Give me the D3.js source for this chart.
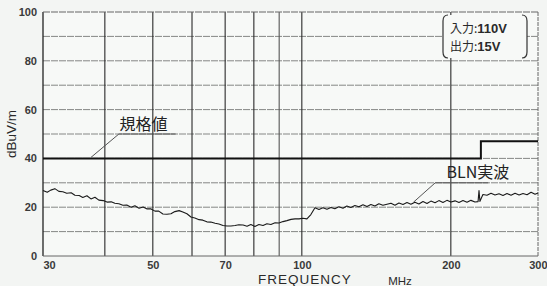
<!DOCTYPE html>
<html>
<head>
<meta charset="utf-8">
<script src="https://cdn.jsdelivr.net/npm/d3@7"></script>
<style>
  body { margin: 0; background: #f3f5f3; }
  svg { display: block; }
</style>
</head>
<body>
<div id="chart"></div>
<script>
// axis ticks
const freqLabels = [30, 50, 70, 100, 200, 300];
const freqGrid = [40, 50, 60, 70, 80, 90, 100, 200];
const levelLabels = [0, 20, 40, 60, 80, 100];
const levelGrid = [10, 20, 30, 40, 50, 60, 70, 80, 90];

// limit line (規格値)
const limitFreq = [30, 230, 300];
const limitLevel = [40, 47, 47];

const blnFreq = [
  30, 30.6, 31.1, 31.7, 32.3, 32.9, 33.5, 34.2, 34.8, 35.5,
  36.1, 36.8, 37.5, 38.2, 38.9, 39.7, 40.4, 41.2, 41.9, 42.7,
  43.5, 44.3, 45.2, 46.0, 46.9, 47.8, 48.7, 49.6, 50.5, 51.4,
  52.4, 53.4, 54.4, 55.4, 56.5, 57.5, 58.6, 59.7, 60.8, 62.0,
  63.1, 64.3, 65.5, 66.8, 68.0, 69.3, 70.6, 71.9, 73.3, 74.6,
  76.1, 77.5, 78.9, 80.4, 81.9, 83.5, 85.0, 86.6, 88.3, 89.9,
  91.6, 93.3, 95.1, 96.9, 98.7, 100.5, 102.4, 104.3, 106.3, 108.3,
  110.3, 112.4, 114.5, 116.6, 118.8, 121.1, 123.3, 125.6, 128.0, 130.4,
  132.9, 135.4, 137.9, 140.5, 143.1, 145.8, 148.6, 151.4, 154.2, 157.1,
  160.1, 163.1, 166.1, 169.2, 172.4, 175.7, 179.0, 182.3, 185.8, 189.2,
  192.8, 196.4, 200.1, 203.9, 207.7, 211.6, 215.6, 219.6, 223.8, 227.0,
  228.0, 229.0, 232.2, 236.6, 241.1, 245.6, 250.2, 254.9, 259.7, 264.6,
  269.6, 274.7, 279.8, 285.1, 290.5, 295.9, 300
];
const blnLevel = [
  26.8, 26.1, 27.0, 27.6, 26.5, 26.3, 25.7, 25.9, 24.9, 24.8,
  24.0, 24.7, 23.4, 24.1, 22.9, 22.7, 22.1, 22.2, 21.6, 21.4,
  20.8, 20.9, 20.0, 20.6, 19.6, 20.1, 19.3, 19.3, 18.4, 18.4,
  17.2, 17.1, 17.3, 18.2, 18.6, 18.0, 17.3, 16.0, 15.6, 14.9,
  14.7, 14.0, 13.9, 13.4, 13.1, 12.5, 12.3, 12.3, 12.5, 12.8,
  12.7, 12.2, 12.9, 12.1, 12.9, 12.5, 13.2, 12.9, 13.6, 13.5,
  14.1, 14.5, 15.0, 15.2, 15.2, 15.5, 15.2, 17.0, 19.8, 19.1,
  19.8, 19.2, 19.9, 19.4, 20.2, 19.6, 20.5, 19.9, 20.7, 20.2,
  21.0, 20.3, 21.1, 20.5, 21.4, 20.8, 21.2, 21.6, 20.8, 21.7,
  21.1, 21.9, 21.2, 22.0, 21.3, 22.3, 21.5, 22.5, 21.8, 22.7,
  21.9, 22.8, 22.1, 22.6, 21.9, 22.7, 22.0, 22.8, 22.1, 22.3,
  26.8, 22.4, 25.2, 24.9, 25.7, 25.0, 25.5, 24.8, 25.6, 24.9,
  25.7, 25.0, 25.6, 25.1, 26.1, 25.3, 25.8
];

const width = 547, height = 286;
const margin = { top: 12, right: 9, bottom: 30, left: 43 };

const svg = d3.select('#chart')
  .append('svg')
  .attr('width', width)
  .attr('height', height)
  .style('font-family', '"Liberation Sans", Arial, sans-serif');

const x = d3.scaleLog()
  .domain([30, 300])
  .range([margin.left, width - margin.right]);

const y = d3.scaleLinear()
  .domain([0, 100])
  .range([height - margin.bottom, margin.top]);

// plot background
svg.append('rect')
  .attr('x', x(30)).attr('y', y(100))
  .attr('width', x(300) - x(30)).attr('height', y(0) - y(100))
  .attr('fill', '#f7f9f7');

// horizontal grid (light grey)
svg.append('g')
  .selectAll('line')
  .data(levelGrid)
  .join('line')
  .attr('x1', x(30)).attr('x2', x(300))
  .attr('y1', d => y(d)).attr('y2', d => y(d))
  .attr('stroke', '#858785')
  .attr('stroke-width', 1)
  .attr('stroke-dasharray', '7,1');

// vertical grid (darker)
svg.append('g')
  .selectAll('line')
  .data(freqGrid)
  .join('line')
  .attr('x1', d => x(d)).attr('x2', d => x(d))
  .attr('y1', y(0)).attr('y2', y(100))
  .attr('stroke', d => d === 90 ? '#555' : '#2a2a2a')
  .attr('stroke-width', 1.1);

// frame
svg.append('line')
  .attr('x1', x(30)).attr('x2', x(30)).attr('y1', y(0)).attr('y2', y(100))
  .attr('stroke', '#222').attr('stroke-width', 1.3);
svg.append('line')
  .attr('x1', x(300)).attr('x2', x(300)).attr('y1', y(0)).attr('y2', y(100))
  .attr('stroke', '#666').attr('stroke-width', 1).attr('stroke-dasharray', '4,1');
svg.append('line')
  .attr('x1', x(30)).attr('x2', x(300)).attr('y1', y(100)).attr('y2', y(100))
  .attr('stroke', '#666').attr('stroke-width', 1).attr('stroke-dasharray', '7,1');
svg.append('line')
  .attr('x1', x(30)).attr('x2', x(300)).attr('y1', y(0)).attr('y2', y(0))
  .attr('stroke', '#666').attr('stroke-width', 1);

// y tick labels
svg.append('g')
  .attr('transform', `translate(${x(30)},0)`)
  .call(d3.axisLeft(y).tickValues(levelLabels).tickSize(0).tickPadding(6))
  .call(g => g.select('.domain').remove())
  .selectAll('text')
  .attr('font-size', 11)
  .attr('font-weight', 'bold')
  .attr('fill', '#3a3a3a')
  .attr('font-family', '"Liberation Sans", Arial, sans-serif');

// x tick labels
svg.append('g')
  .attr('transform', `translate(0,${y(0)})`)
  .call(d3.axisBottom(x).tickValues(freqLabels).tickFormat(d3.format('d')).tickSize(0).tickPadding(5))
  .call(g => g.select('.domain').remove())
  .selectAll('text')
  .attr('font-size', 11)
  .attr('font-weight', 'bold')
  .attr('fill', '#3a3a3a')
  .attr('font-family', '"Liberation Sans", Arial, sans-serif')
  .attr('text-anchor', d => d === 30 ? 'start' : d === 300 ? 'end' : 'middle')
  .attr('dx', d => d === 300 ? 9 : 0);

// axis titles
svg.append('text')
  .attr('transform', `translate(16,${y(50)}) rotate(-90)`)
  .attr('text-anchor', 'middle')
  .attr('font-size', 13.5)
  .attr('fill', '#2a2a2a')
  .text('dBuV/m');

svg.append('text')
  .attr('x', 305).attr('y', 284)
  .attr('text-anchor', 'middle')
  .attr('font-size', 13.5)
  .attr('letter-spacing', 1)
  .attr('fill', '#2a2a2a')
  .text('FREQUENCY');

svg.append('text')
  .attr('x', 400).attr('y', 285)
  .attr('text-anchor', 'middle')
  .attr('font-size', 11.5)
  .attr('fill', '#2a2a2a')
  .text('MHz');

// limit line
const limitData = limitFreq.map((f, i) => ({ f, v: limitLevel[i] }));
svg.append('path')
  .datum(limitData)
  .attr('fill', 'none')
  .attr('stroke', '#111')
  .attr('stroke-width', 2)
  .attr('d', d3.line().x(d => x(d.f)).y(d => y(d.v)).curve(d3.curveStepAfter));

// measured noise
const blnData = blnFreq.map((f, i) => ({ f, v: blnLevel[i] }));
svg.append('path')
  .datum(blnData)
  .attr('fill', 'none')
  .attr('stroke', '#1a1a1a')
  .attr('stroke-width', 1.1)
  .attr('stroke-linejoin', 'round')
  .attr('d', d3.line().x(d => x(d.f)).y(d => y(d.v)));

// 規格値 label with leader
svg.append('path')
  .attr('d', `M${x(37.5)},${y(40) - 1}L${x(42.7)},${y(50)}L${x(55.6)},${y(50)}`)
  .attr('fill', 'none')
  .attr('stroke', '#555')
  .attr('stroke-width', 1);
svg.append('text')
  .attr('x', x(42.8)).attr('y', y(50) - 4)
  .attr('font-size', 16)
  .attr('fill', '#222')
  .attr('font-family', '"Noto Sans CJK JP", sans-serif')
  .text('規格値');

// BLN実波 label with leader
svg.append('path')
  .attr('d', `M${x(168)},${y(22)}L${x(186)},${y(30)}L${x(238)},${y(30)}`)
  .attr('fill', 'none')
  .attr('stroke', '#555')
  .attr('stroke-width', 1);
svg.append('text')
  .attr('x', x(196)).attr('y', y(30) - 5)
  .attr('font-size', 16)
  .attr('fill', '#222')
  .attr('font-family', '"Noto Sans CJK JP", sans-serif')
  .text('BLN実波');

// input/output box
const bx0 = 443, bx1 = 527, by0 = 15, by1 = 58;
svg.append('rect')
  .attr('x', bx0).attr('y', by0)
  .attr('width', bx1 - bx0).attr('height', by1 - by0)
  .attr('fill', '#f7f9f7');
svg.append('path')
  .attr('d', `M${bx0 + 5},${by0}Q${bx0},${by0} ${bx0},${by0 + 6}L${bx0},${by1 - 6}Q${bx0},${by1} ${bx0 + 5},${by1}` +
             `M${bx1 - 5},${by0}Q${bx1},${by0} ${bx1},${by0 + 6}L${bx1},${by1 - 6}Q${bx1},${by1} ${bx1 - 5},${by1}`)
  .attr('fill', 'none')
  .attr('stroke', '#333')
  .attr('stroke-width', 1.2);
const boxLines = [['入力:', '110V', 33], ['出力:', '15V', 51]];
boxLines.forEach(([jp, num, yy]) => {
  const t = svg.append('text')
    .attr('x', 450).attr('y', yy)
    .attr('font-size', 12)
    .attr('fill', '#2a2a2a');
  t.append('tspan')
    .attr('font-family', '"Noto Sans CJK JP", sans-serif')
    .text(jp);
  t.append('tspan')
    .attr('font-family', '"Liberation Sans", Arial, sans-serif')
    .attr('font-weight', 'bold')
    .attr('font-size', 13)
    .text(num);
});
</script>
</body>
</html>
